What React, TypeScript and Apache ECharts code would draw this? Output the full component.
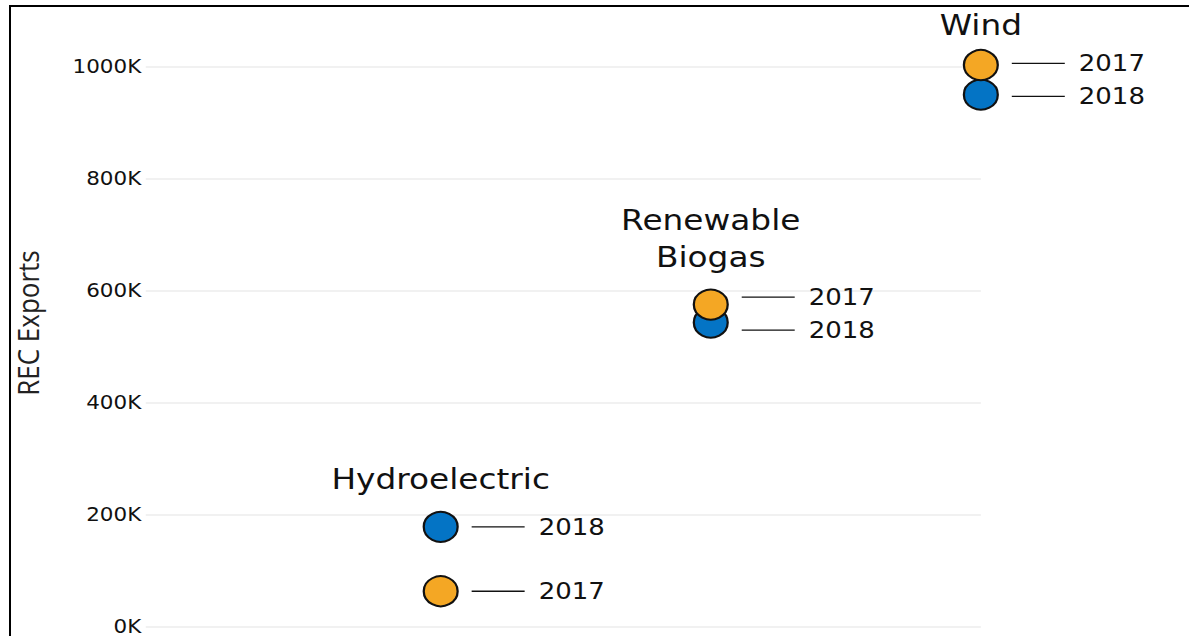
import React, { useEffect, useRef } from "react";
import * as echarts from "echarts";

// ---- data ----
const categories = ["Hydroelectric", "Renewable\nBiogas", "Wind"];
const values2017 = [63000, 575000, 1003000];
const values2018 = [178000, 543000, 950000];
const seriesNames = ["2017", "2018"];
const yMin = 0;
const yMax = 1000000;
const yInterval = 200000;

// the reference is horizontally stretched
const STRETCH = 1.13;
const W = 1189;
const H = 636;
const INNER_W = Math.round(W / STRETCH);

const ORANGE = "#F4A724";
const BLUE = "#0474C5";
const FONT = '"DejaVu Sans", sans-serif';

export default function App() {
  const ref = useRef<HTMLDivElement>(null);

  useEffect(() => {
    if (!ref.current) return;
    const chart = echarts.init(ref.current, undefined, { renderer: "svg" });

    const pointsFor = (vals: number[]) => categories.map((_, i) => [i, vals[i]]);

    const option: any = {
      animation: false,
      backgroundColor: "#ffffff",
      grid: { left: 129, right: INNER_W - 868, top: 66.7, bottom: 7.5 },
      xAxis: { type: "value", min: -1.092, max: 2, show: false },
      yAxis: {
        type: "value",
        min: yMin,
        max: yMax,
        interval: yInterval,
        axisLine: { show: false },
        axisTick: { show: false },
        splitLine: { lineStyle: { color: "#ededed", width: 1.5 } },
        axisLabel: {
          formatter: (v: number) => v / 1000 + "K",
          fontFamily: FONT,
          fontSize: 19,
          color: "#111",
          margin: 4,
        },
      },
      graphic: [
        {
          type: "text",
          x: 24,
          y: 323,
          rotation: Math.PI / 2,
          style: {
            text: "REC Exports",
            font: '26px "Open Sans", sans-serif',
            fill: "#222",
            align: "center",
            verticalAlign: "middle",
          },
        },
      ],
      series: [
        {
          name: seriesNames[1],
          type: "scatter",
          clip: false,
          z: 2,
          symbol: "circle",
          symbolSize: 30,
          itemStyle: { color: BLUE, borderColor: "#111", borderWidth: 2, opacity: 1 },
          data: pointsFor(values2018),
        },
        {
          name: seriesNames[0],
          type: "scatter",
          clip: false,
          z: 3,
          symbol: "circle",
          symbolSize: 30,
          itemStyle: { color: ORANGE, borderColor: "#111", borderWidth: 2, opacity: 1 },
          data: pointsFor(values2017),
        },
        {
          type: "custom",
          z: 4,
          silent: true,
          encode: { x: 0, y: [1, 2] },
          data: categories.map((_, i) => [i, values2017[i], values2018[i]]),
          renderItem: (params: any, api: any) => {
            const i = api.value(0);
            const vals = [api.value(1), api.value(2)];
            const pts = vals.map((v: number) => api.coord([i, v]));
            const ys = pts.map((p: number[]) => p[1]);
            const GAP = 33;
            const ly = ys.slice();
            if (Math.abs(ys[0] - ys[1]) < GAP) {
              const mid = (ys[0] + ys[1]) / 2;
              const up = ys[0] <= ys[1] ? 0 : 1;
              ly[up] = mid - GAP / 2;
              ly[1 - up] = mid + GAP / 2;
            }
            const x = pts[0][0];
            const children: any[] = [];
            seriesNames.forEach((name, k) => {
              children.push({
                type: "line",
                shape: { x1: x + 27.4, y1: ly[k], x2: x + 74.3, y2: ly[k] },
                style: { stroke: "#111", lineWidth: 1.3 },
              });
              children.push({
                type: "text",
                x: x + 86.7,
                y: ly[k],
                style: {
                  text: name,
                  font: "23px " + FONT,
                  fill: "#111",
                  align: "left",
                  verticalAlign: "middle",
                },
              });
            });
            const topY = Math.min(ys[0], ys[1]);
            children.push({
              type: "text",
              x,
              y: Math.max(topY - 29.5, 43.5),
              style: {
                text: categories[i],
                font: "29px " + FONT,
                fill: "#111",
                align: "center",
                verticalAlign: "bottom",
                lineHeight: 37,
              },
            });
            return { type: "group", children };
          },
        },
      ],
    };

    chart.setOption(option);
    return () => chart.dispose();
  }, []);

  return (
    <div
      style={{
        position: "fixed",
        left: 0,
        top: 0,
        width: W,
        height: H,
        overflow: "hidden",
        background: "#fff",
      }}
    >
      <div
        ref={ref}
        style={{
          position: "absolute",
          left: 0,
          top: 0,
          width: INNER_W,
          height: H,
          transform: `scaleX(${STRETCH})`,
          transformOrigin: "0 0",
        }}
      />
      <div
        style={{
          position: "absolute",
          left: 9,
          top: 5,
          width: 2000,
          height: 2000,
          borderLeft: "2px solid #000",
          borderTop: "2px solid #000",
          pointerEvents: "none",
        }}
      />
    </div>
  );
}
